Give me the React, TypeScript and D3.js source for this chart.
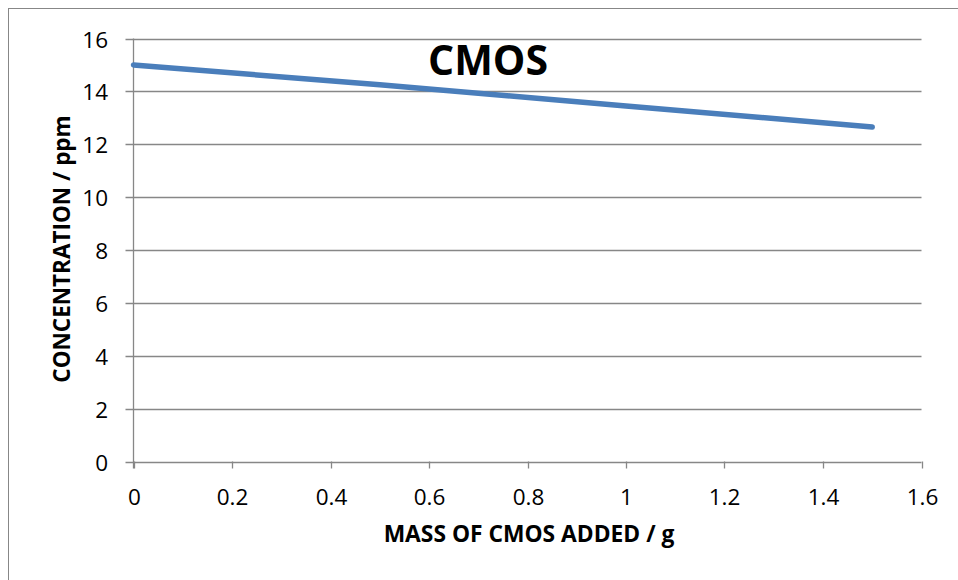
import React, { useEffect, useRef } from "react";
import * as d3 from "d3";

// Measured concentration after each addition of CMOS
const massAdded = [0, 0.5, 1.0, 1.5];
const concentration = [15, 14.25, 13.45, 12.65];

const xTicks = [0, 0.2, 0.4, 0.6, 0.8, 1, 1.2, 1.4, 1.6];
const yTicks = [0, 2, 4, 6, 8, 10, 12, 14, 16];

const chartTitle = "CMOS";
const xTitle = "MASS OF CMOS ADDED / g";
const yTitle = "CONCENTRATION / ppm";

const W = 958;
const H = 580;
const FONT = "'Open Sans', 'Liberation Sans', sans-serif";
const GRID = "#878787";
const LINE = "#4A7EBB";

export default function App() {
  const ref = useRef<SVGSVGElement | null>(null);

  useEffect(() => {
    const svg = d3.select(ref.current);
    svg.selectAll("*").remove();

    const left = 133.5;
    const right = 921.5;
    const top = 38.5;
    const bottom = 461.5;

    const x = d3.scaleLinear().domain([0, 1.6]).range([left, right]);
    const y = d3.scaleLinear().domain([0, 16]).range([bottom, top]);

    // outer frame of the chart area
    svg
      .append("rect")
      .attr("x", 8.5)
      .attr("y", 8.5)
      .attr("width", W + 20)
      .attr("height", H + 20)
      .attr("fill", "#fff")
      .attr("stroke", GRID)
      .attr("stroke-width", 1);

    // horizontal gridlines with left tick stubs
    const g = svg.append("g");
    yTicks.forEach((t) => {
      const yy = Math.round(y(t)) + 0.5;
      g.append("line")
        .attr("x1", left - 8)
        .attr("x2", right)
        .attr("y1", yy)
        .attr("y2", yy)
        .attr("stroke", GRID)
        .attr("stroke-width", 1.3);
      g.append("text")
        .attr("x", 108)
        .attr("y", yy)
        .attr("dy", "0.36em")
        .attr("text-anchor", "end")
        .attr("font-family", FONT)
        .attr("font-size", 22.5)
        .attr("fill", "#000")
        .text(String(t));
    });

    // vertical axis
    g.append("line")
      .attr("x1", left)
      .attr("x2", left)
      .attr("y1", top)
      .attr("y2", bottom + 7)
      .attr("stroke", GRID)
      .attr("stroke-width", 1.3);

    // x tick marks and labels
    xTicks.forEach((t) => {
      const xx = Math.round(x(t)) + 0.5;
      g.append("line")
        .attr("x1", xx)
        .attr("x2", xx)
        .attr("y1", bottom)
        .attr("y2", bottom + 7)
        .attr("stroke", GRID)
        .attr("stroke-width", 1.3);
      g.append("text")
        .attr("x", xx)
        .attr("y", 505)
        .attr("text-anchor", "middle")
        .attr("font-family", FONT)
        .attr("font-size", 22.5)
        .attr("fill", "#000")
        .text(String(t));
    });

    // data line
    const pts: [number, number][] = massAdded.map((m, i) => [m, concentration[i]]);
    const line = d3
      .line<[number, number]>()
      .x((d) => x(d[0]))
      .y((d) => y(d[1]));
    svg
      .append("path")
      .attr("d", line(pts))
      .attr("fill", "none")
      .attr("stroke", LINE)
      .attr("stroke-width", 5.5)
      .attr("stroke-linecap", "round")
      .attr("stroke-linejoin", "round");

    // chart title
    svg
      .append("text")
      .attr("x", 488)
      .attr("y", 75)
      .attr("text-anchor", "middle")
      .attr("font-family", FONT)
      .attr("font-weight", 700)
      .attr("font-size", 41)
      .attr("fill", "#000")
      .text(chartTitle);

    // axis titles
    svg
      .append("text")
      .attr("x", 529)
      .attr("y", 542)
      .attr("text-anchor", "middle")
      .attr("font-family", FONT)
      .attr("font-weight", 700)
      .attr("font-size", 22.8)
      .attr("fill", "#000")
      .text(xTitle);

    svg
      .append("text")
      .attr("transform", "translate(70,249) rotate(-90)")
      .attr("text-anchor", "middle")
      .attr("font-family", FONT)
      .attr("font-weight", 700)
      .attr("font-size", 22.5)
      .attr("fill", "#000")
      .text(yTitle);
  }, []);

  return (
    <svg
      ref={ref}
      width={W}
      height={H}
      style={{ position: "absolute", left: 0, top: 0, background: "#fff" }}
    />
  );
}
